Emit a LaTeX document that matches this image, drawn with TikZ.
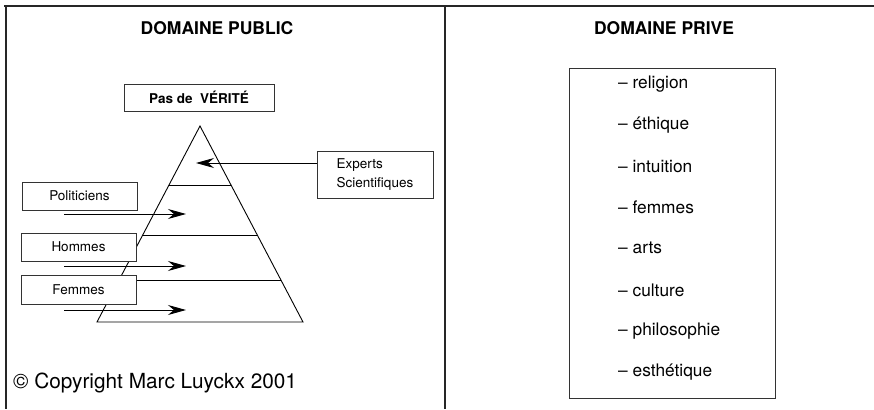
\documentclass[tikz,border=0pt]{standalone}
\usepackage{fontspec}
\setmainfont{TeX Gyre Heros}
\usetikzlibrary{arrows.meta,calc}

\begin{document}
\begin{tikzpicture}[x=1pt, y=-1pt,
    box/.style = {draw=black!80, fill=white, line width=0.9pt, minimum width=115pt, minimum height=28pt, inner sep=0pt, font=\fontsize{13.5}{16}\selectfont},
    title/.style = {inner sep=0pt, font=\bfseries\fontsize{17.5}{20}\selectfont},
    item/.style = {anchor=west, inner sep=0pt, font=\fontsize{17.3}{20}\selectfont},
    flow/.style = {-{Stealth[length=18pt, width=10pt, inset=6pt]}, line width=0.9pt},
    frame/.style = {line width=2.5pt, black!85}]
    \useasboundingbox (0,0) rectangle (874,409);

    % frame
    \draw[frame] (4,6) -- (874,6);
    \draw[frame] (6,6) -- (6,409);
    \draw[frame] (445,6) -- (445,409);

    % pyramid
    \coordinate (apex) at (200,126);
    \coordinate (bl) at (97,322);
    \coordinate (br) at (303,322);
    \draw[line width=0.9pt] (apex) -- (bl) -- (br) -- cycle;
    \draw[line width=0.9pt] ($(apex)!0.301!(bl)$) -- ($(apex)!0.301!(br)$);
    \draw[line width=0.9pt] ($(apex)!0.556!(bl)$) -- ($(apex)!0.556!(br)$);
    \draw[line width=0.9pt] ($(apex)!0.786!(bl)$) -- ($(apex)!0.786!(br)$);

    % public side
    \node[title] (public) at (217,28) {DOMAINE PUBLIC};
    \node[box, minimum width=150pt, minimum height=27pt, font=\bfseries\fontsize{13.5}{16}\selectfont] (verite) at (199,97.5) {Pas de\ \ VÉRITÉ};
    \node[box, minimum width=116pt, minimum height=47pt, align=left, font=\fontsize{13.5}{19}\selectfont] (experts) at (375,174.5) {Experts\\Scientifiques};
    \node[box] (politiciens) at (79.5,196) {Politiciens};
    \node[box] (hommes) at (78.5,247) {Hommes};
    \node[box, minimum height=29pt] (femmes) at (78.5,289.5) {Femmes};
    \node[anchor=west, inner sep=0pt, font=\fontsize{20.8}{24}\selectfont] (copyright) at (13,383) {© Copyright Marc Luyckx 2001};

    \coordinate (top-tip) at (196,163);
    \coordinate (pol-in) at (64,214);
    \coordinate (pol-out) at (186,214);
    \coordinate (hom-in) at (64,266);
    \coordinate (hom-out) at (186,266);
    \coordinate (fem-in) at (64,310);
    \coordinate (fem-out) at (186,310);

    \draw[flow] (experts.west |- top-tip) -- (top-tip);
    \draw[flow] (pol-in) -- (pol-out);
    \draw[flow] (hom-in) -- (hom-out);
    \draw[flow] (fem-in) -- (fem-out);

    % private side
    \node[title] (private) at (664,28) {DOMAINE PRIVE};
    \node[draw=black!80, line width=0.9pt, minimum width=206pt, minimum height=330pt] (prive) at (672,233) {};
    \node[item] (religion) at (618,84) {– religion};
    \node[item] (ethique) at (618,125) {– éthique};
    \node[item] (intuition) at (618,167) {– intuition};
    \node[item] (femmes-p) at (618,207) {– femmes};
    \node[item] (arts) at (618,248) {– arts};
    \node[item] (culture) at (618,290) {– culture};
    \node[item] (philo) at (618,331) {– philosophie};
    \node[item] (esthetique) at (618,372) {– esthétique};
\end{tikzpicture}
\end{document}
